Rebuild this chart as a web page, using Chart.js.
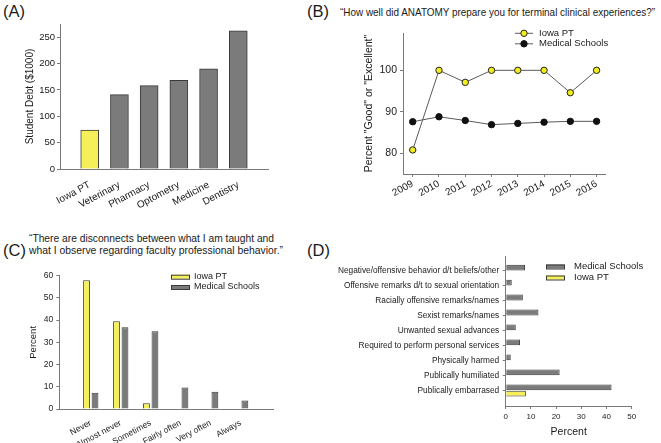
<!DOCTYPE html>
<html>
<head>
<meta charset="utf-8">
<script src="https://cdn.jsdelivr.net/npm/chart.js@4"></script>
<style>
  html, body { margin: 0; padding: 0; background: #fff; }
  body { width: 661px; height: 443px; position: relative; overflow: hidden;
         font-family: "Liberation Sans", Arial, sans-serif; color: #1a1a1a; }
  canvas { position: absolute; }
  .lbl { position: absolute; font-size: 16.5px; line-height: 16.5px; white-space: nowrap; }
  .quote { position: absolute; font-size: 11px; line-height: 11px; white-space: nowrap; transform-origin: 0 0; }
</style>
</head>
<body>
<div class="lbl" style="left:3px;top:3px">(A)</div>
<div class="lbl" style="left:307px;top:3px">(B)</div>
<div class="lbl" style="left:3px;top:242px">(C)</div>
<div class="lbl" style="left:307px;top:242px">(D)</div>

<div class="quote" id="qB" style="left:340px;top:7px">“How well did ANATOMY prepare you for terminal clinical experiences?”</div>
<div class="quote" id="qC1" style="left:29px;top:233px">“There are disconnects between what I am taught and</div>
<div class="quote" id="qC2" style="left:29px;top:245px">what I observe regarding faculty professional behavior.”</div>

<canvas id="chartA" width="330" height="220" style="left:0;top:0"></canvas>
<canvas id="chartB" width="331" height="220" style="left:330px;top:0"></canvas>
<canvas id="chartC" width="330" height="223" style="left:0;top:220px"></canvas>
<canvas id="chartD" width="331" height="223" style="left:330px;top:220px"></canvas>

<script>
// (A) student debt
const debtSchools = ['Iowa PT', 'Veterinary', 'Pharmacy', 'Optometry', 'Medicine', 'Dentistry'];
const debtValues = [74, 141, 158, 168, 190, 262];

// (B) anatomy preparation
const years = [2009, 2010, 2011, 2012, 2013, 2014, 2015, 2016];
const anatomyIowa = [80.8, 100, 97.1, 100, 100, 100, 94.6, 100];
const anatomyMed = [87.6, 88.8, 87.9, 86.9, 87.2, 87.5, 87.7, 87.7];

// (C) disconnects
const frequency = ['Never', 'Almost never', 'Sometimes', 'Fairly often', 'Very often', 'Always'];
const disconnectIowa = [58, 39.5, 2.6, null, null, null];
const disconnectMed = [7.3, 36.8, 35, 9.7, 7.8, 3.8];

// (D) mistreatment
const mistreatment = [
  'Negative/offensive behavior d/t beliefs/other',
  'Offensive remarks d/t to sexual orientation',
  'Racially offensive remarks/names',
  'Sexist remarks/names',
  'Unwanted sexual advances',
  'Required to perform personal services',
  'Physically harmed',
  'Publically humiliated',
  'Publically embarrased'
];
const mistreatMed = [7.7, 2.4, 6.8, 13, 4, 5.7, 2, 21.4, 42];
const mistreatIowa = [null, null, null, null, null, null, null, null, 8];

const FONT = '"Liberation Sans", Arial, sans-serif';
const TXT = '#1a1a1a';
const AX = '#7a7a7a';
const YEL = '#f5f05a';
const GRY = '#7b7b7b';
const EDGE = '#3a3a3a';

Chart.defaults.font.family = FONT;
Chart.defaults.color = TXT;
Chart.defaults.animation = false;

const pairs = (xs, ys) => ys.map((y, i) => ({ x: xs[i], y: y }));
const idx = (arr) => arr.map((_, i) => i);
const noTip = { legend: { display: false }, tooltip: { enabled: false } };
const border = { display: true, color: AX, width: 1 };
const tickMarks = (ok) => ({
  display: true, drawOnChartArea: false, drawTicks: true, tickLength: 3, lineWidth: 1,
  color: (c) => ((ok && c.tick && !ok(c.tick.value)) ? 'rgba(0,0,0,0)' : AX)
});

// draws the little legend boxes from the datasets
function legendBox(o) {
  return {
    id: 'legendBox',
    afterDraw(chart) {
      const ctx = chart.ctx;
      ctx.save();
      ctx.font = o.size + 'px ' + FONT;
      ctx.textBaseline = 'middle';
      o.order.forEach((di, i) => {
        const ds = chart.data.datasets[di];
        const y = o.y + i * o.gap;
        ctx.lineWidth = 1;
        ctx.strokeStyle = EDGE;
        if (o.kind === 'line') {
          ctx.strokeStyle = ds.borderColor;
          ctx.beginPath(); ctx.moveTo(o.x, y); ctx.lineTo(o.x + o.w, y); ctx.stroke();
          ctx.beginPath(); ctx.arc(o.x + o.w / 2, y, 3.2, 0, Math.PI * 2);
          ctx.fillStyle = ds.pointBackgroundColor; ctx.fill();
          ctx.strokeStyle = ds.pointBorderColor; ctx.stroke();
        } else {
          ctx.fillStyle = ds.backgroundColor;
          ctx.fillRect(o.x, y - 2, o.w, 4);
          ctx.strokeRect(o.x + 0.5, y - 2 + 0.5, o.w - 1, 4);
        }
        ctx.fillStyle = TXT;
        ctx.fillText(ds.label, o.textX, y);
      });
      ctx.restore();
    }
  };
}

// (A)
new Chart(document.getElementById('chartA'), {
  type: 'bar',
  data: {
    datasets: [{
      data: pairs(idx(debtSchools), debtValues),
      backgroundColor: debtSchools.map((s, i) => (i === 0 ? YEL : GRY)),
      borderColor: EDGE, borderWidth: 1, barThickness: 18
    }]
  },
  options: {
    responsive: false,
    layout: { padding: { left: 0, top: 24, right: 62, bottom: 0 } },
    plugins: noTip,
    scales: {
      x: {
        type: 'linear', min: -1, max: 6, offset: false,
        afterFit: (s) => { s.height = 51; },
        grid: { display: false, offset: false }, border: border,
        ticks: { stepSize: 1, autoSkip: false, minRotation: 28, maxRotation: 28, padding: 2,
                 font: { size: 10 }, callback: (v) => debtSchools[v] ?? '' }
      },
      y: {
        min: 0, max: 275,
        afterFit: (s) => { s.width = 60; },
        grid: tickMarks(), border: border,
        ticks: { stepSize: 50, includeBounds: false, padding: 2, font: { size: 9.5 } },
        title: { display: true, text: 'Student Debt ($1000)', font: { size: 10 }, padding: { top: 24 } }
      }
    }
  }
});

// (B)
new Chart(document.getElementById('chartB'), {
  type: 'line',
  data: {
    datasets: [
      { label: 'Iowa PT', data: pairs(years, anatomyIowa), borderColor: '#5a5a5a', borderWidth: 1,
        pointRadius: 3.2, pointBackgroundColor: '#f2ec22', pointBorderColor: '#222', pointBorderWidth: 1 },
      { label: 'Medical Schools', data: pairs(years, anatomyMed), borderColor: '#5a5a5a', borderWidth: 1,
        pointRadius: 3.2, pointBackgroundColor: '#111', pointBorderColor: '#111', pointBorderWidth: 1 }
    ]
  },
  options: {
    responsive: false,
    layout: { padding: { left: 0, top: 33, right: 56, bottom: 0 } },
    plugins: noTip,
    scales: {
      x: {
        type: 'linear', min: 2008.63, max: 2016.32,
        afterFit: (s) => { s.height = 46; },
        grid: tickMarks(), border: border,
        ticks: { stepSize: 1, includeBounds: false, autoSkip: false, minRotation: 28, maxRotation: 28,
                 padding: 1, font: { size: 10 }, callback: (v) => String(v) }
      },
      y: {
        min: 75, max: 109,
        afterFit: (s) => { s.width = 73; },
        grid: tickMarks(), border: border,
        ticks: { stepSize: 10, includeBounds: false, padding: 3, font: { size: 10.5 } },
        title: { display: true, text: 'Percent "Good" or "Excellent"', font: { size: 10.5 }, padding: { top: 32.7 } }
      }
    }
  },
  plugins: [legendBox({ kind: 'line', order: [0, 1], x: 185, w: 18, y: 33.3, gap: 10.5, textX: 209, size: 9.5 })]
});

// (C)
new Chart(document.getElementById('chartC'), {
  type: 'bar',
  data: {
    datasets: [
      { label: 'Iowa PT', data: pairs(idx(frequency), disconnectIowa), backgroundColor: YEL,
        borderColor: EDGE, borderWidth: 1, categoryPercentage: 0.567, barPercentage: 0.8 },
      { label: 'Medical Schools', data: pairs(idx(frequency), disconnectMed), backgroundColor: GRY,
        borderColor: EDGE, borderWidth: 1, categoryPercentage: 0.567, barPercentage: 0.8 }
    ]
  },
  options: {
    responsive: false,
    layout: { padding: { left: 0, top: 55.7, right: 57, bottom: 0 } },
    plugins: noTip,
    scales: {
      x: {
        type: 'linear', min: -1.05, max: 6.08, offset: false,
        afterFit: (s) => { s.height = 34; },
        grid: { display: false, offset: false }, border: border,
        ticks: { stepSize: 1, includeBounds: false, autoSkip: false, minRotation: 28, maxRotation: 28,
                 padding: 1, font: { size: 8.5 }, callback: (v) => frequency[v] ?? '' }
      },
      y: {
        min: 0, max: 60,
        afterFit: (s) => { s.width = 59.3; },
        grid: tickMarks(), border: border,
        ticks: { stepSize: 10, padding: 3, font: { size: 8.5 } },
        title: { display: true, text: 'Percent', font: { size: 9.5 }, padding: { top: 27.3 } }
      }
    }
  },
  plugins: [legendBox({ kind: 'rect', order: [0, 1], x: 171, w: 19, y: 56.7, gap: 10.3, textX: 194, size: 9 })]
});

// (D)
new Chart(document.getElementById('chartD'), {
  type: 'bar',
  data: {
    datasets: [
      { label: 'Medical Schools', data: pairs(mistreatMed, idx(mistreatment)), backgroundColor: GRY,
        borderColor: EDGE, borderWidth: 1, categoryPercentage: 0.84, barPercentage: 0.92 },
      { label: 'Iowa PT', data: pairs(mistreatIowa, idx(mistreatment)), backgroundColor: YEL,
        borderColor: EDGE, borderWidth: 1, categoryPercentage: 0.84, barPercentage: 0.92 }
    ]
  },
  options: {
    responsive: false,
    indexAxis: 'y',
    layout: { padding: { left: 0, top: 36, right: 29.3, bottom: 0 } },
    plugins: noTip,
    scales: {
      x: {
        type: 'linear', min: 0, max: 50,
        afterFit: (s) => { s.height = 37; },
        grid: tickMarks(), border: border,
        ticks: { stepSize: 10, padding: 3, font: { size: 8 } },
        title: { display: true, text: 'Percent', font: { size: 10.5 }, padding: { bottom: 4.4 } }
      },
      y: {
        type: 'linear', reverse: true, min: -0.98, max: 9.03, offset: false,
        afterFit: (s) => { s.width = 175.7; },
        grid: Object.assign(tickMarks((v) => v >= 0 && v < mistreatment.length), { offset: false }),
        border: border,
        ticks: { stepSize: 1, includeBounds: false, autoSkip: false, padding: 3.5, font: { size: 8.3 },
                 callback: (v) => mistreatment[v] ?? '' }
      }
    }
  },
  plugins: [legendBox({ kind: 'rect', order: [0, 1], x: 216, w: 19, y: 46.5, gap: 11, textX: 244, size: 9.5 })]
});

// squeeze the quotes to the width they take in the figure
function fitWidth(id, w) {
  const el = document.getElementById(id);
  const cur = el.getBoundingClientRect().width;
  el.style.transform = 'scaleX(' + (w / cur) + ')';
}
fitWidth('qB', 315);
fitWidth('qC1', 245);
fitWidth('qC2', 254);
</script>
</body>
</html>
